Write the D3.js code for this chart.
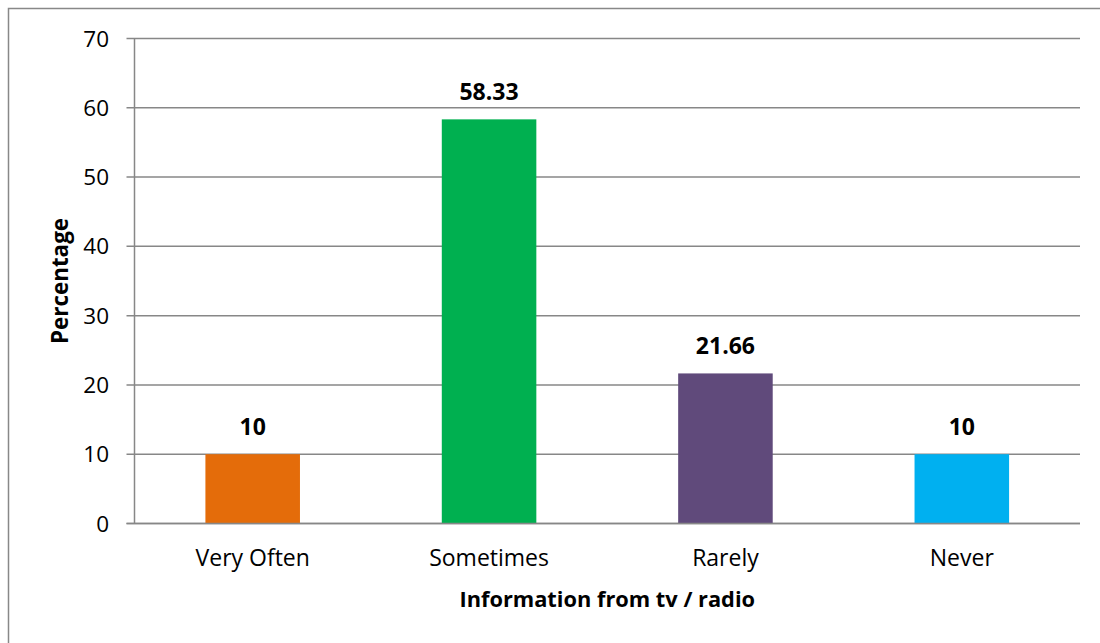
<!DOCTYPE html>
<html>
<head>
<meta charset="utf-8">
<script src="https://cdn.jsdelivr.net/npm/d3@7"></script>
<style>
  html, body { margin: 0; padding: 0; background: #fff; }
  svg { display: block; }
  text { font-family: "Open Sans", "Noto Sans", sans-serif; fill: #000; }
</style>
</head>
<body>
<svg id="chart" width="1100" height="643"></svg>
<script>
// Survey responses: how often information comes from tv / radio
const categories = ["Very Often", "Sometimes", "Rarely", "Never"];
const percentages = [10, 58.33, 21.66, 10];
const barColors = ["#E46C0A", "#00B050", "#604A7B", "#00B0F0"];
const yTicks = [0, 10, 20, 30, 40, 50, 60, 70];
const xTitle = "Information from tv / radio";
const yTitle = "Percentage";

const svg = d3.select("#chart");
const W = 1100, H = 643;
const plot = { left: 134.5, right: 1080, top: 38.5, bottom: 523.5 };

// outer frame
svg.append("rect")
  .attr("x", 8.5).attr("y", 8.5)
  .attr("width", W + 10).attr("height", H + 10)
  .attr("fill", "none").attr("stroke", "#888").attr("stroke-width", 1.5);

const x = d3.scaleBand().domain(categories).range([plot.left, plot.right]).padding(0);
const y = d3.scaleLinear().domain([0, 70]).range([plot.bottom, plot.top]);

// horizontal gridlines with small tick stubs on the left
const grid = svg.append("g");
grid.selectAll("line").data(yTicks).join("line")
  .attr("x1", plot.left - 8).attr("x2", plot.right)
  .attr("y1", d => y(d)).attr("y2", d => y(d))
  .attr("stroke", "#878787").attr("stroke-width", 1.5);

// y axis line
svg.append("line")
  .attr("x1", plot.left).attr("x2", plot.left)
  .attr("y1", plot.top).attr("y2", plot.bottom)
  .attr("stroke", "#878787").attr("stroke-width", 1.5);

// y tick labels
svg.append("g").selectAll("text").data(yTicks).join("text")
  .attr("x", 109).attr("y", d => y(d))
  .attr("dy", "0.36em")
  .attr("text-anchor", "end")
  .attr("font-size", 22.5)
  .text(d => d);

// bars
const barW = x.bandwidth() * 0.4;
svg.append("g").selectAll("rect").data(percentages).join("rect")
  .attr("x", (d, i) => x(categories[i]) + (x.bandwidth() - barW) / 2)
  .attr("y", d => y(d))
  .attr("width", barW)
  .attr("height", d => y(0) - y(d))
  .attr("fill", (d, i) => barColors[i]);

// redraw baseline over bars
svg.append("line")
  .attr("x1", plot.left - 8).attr("x2", plot.right)
  .attr("y1", y(0)).attr("y2", y(0))
  .attr("stroke", "#878787").attr("stroke-width", 1.5);

// value labels
svg.append("g").selectAll("text").data(percentages).join("text")
  .attr("x", (d, i) => x(categories[i]) + x.bandwidth() / 2)
  .attr("y", d => y(d) - 19)
  .attr("text-anchor", "middle")
  .attr("font-size", 23)
  .attr("font-weight", "bold")
  .text(d => d);

// category labels
svg.append("g").selectAll("text").data(categories).join("text")
  .attr("x", d => x(d) + x.bandwidth() / 2)
  .attr("y", 566)
  .attr("text-anchor", "middle")
  .attr("font-size", 23)
  .text(d => d);

// axis titles
svg.append("text")
  .attr("x", (plot.left + plot.right) / 2)
  .attr("y", 607)
  .attr("text-anchor", "middle")
  .attr("font-size", 21.8)
  .attr("font-weight", "bold")
  .text(xTitle);

svg.append("text")
  .attr("transform", `translate(68, ${(plot.top + plot.bottom) / 2}) rotate(-90)`)
  .attr("text-anchor", "middle")
  .attr("font-size", 22.4)
  .attr("font-weight", "bold")
  .text(yTitle);
</script>
</body>
</html>
